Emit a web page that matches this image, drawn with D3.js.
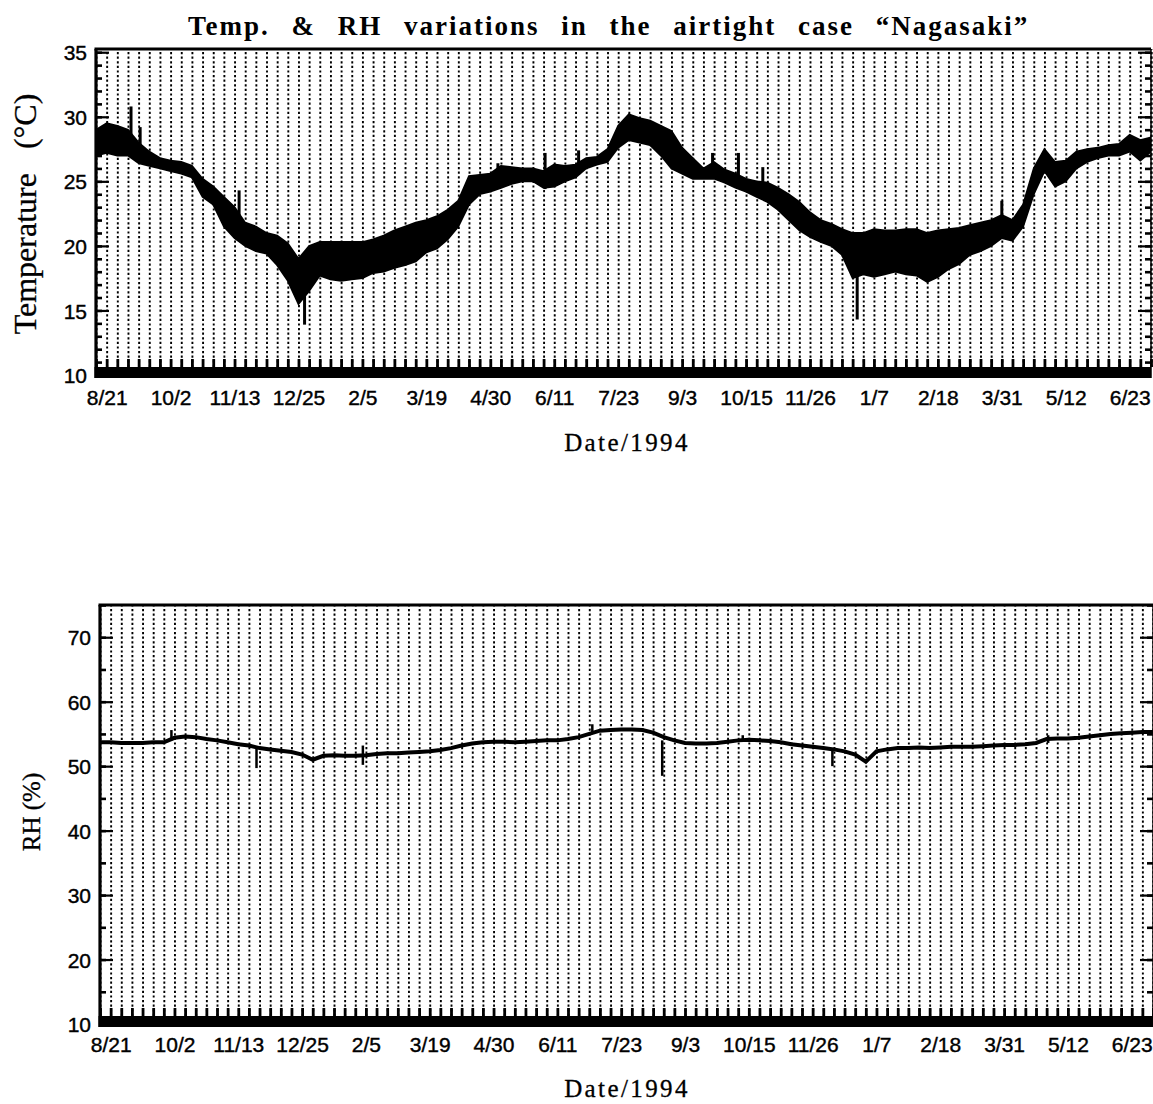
<!DOCTYPE html>
<html>
<head>
<meta charset="utf-8">
<script src="https://cdn.jsdelivr.net/npm/d3@7"></script>
<style>
body { margin: 0; background: #fff; }
.lab { font-family: "Liberation Sans", Arial, sans-serif; font-size: 21px; fill: #000; stroke: #000; stroke-width: 0.4px; }
.serif { font-family: "Liberation Serif", "Times New Roman", serif; fill: #000; }
</style>
</head>
<body>
<svg id="chart" width="1153" height="1104"></svg>
<script>
// ---- data ----
// one reading per week, the first week starts 8/14/1994
var weekStart = "1994-08-14";
var weekCount = 100;

// temperature band: lower and upper edge of the daily swing (°C)
var tempLow = [27.0,27.2,27.0,27.0,26.4,26.2,26.0,25.8,25.6,25.3,
  23.8,23.2,21.5,20.6,20.0,19.6,19.4,18.5,17.3,15.5,
  16.5,17.7,17.4,17.3,17.4,17.5,17.9,18.0,18.3,18.5,
  18.8,19.5,19.8,20.5,21.5,23.2,24.0,24.2,24.5,24.8,
  25.0,25.0,24.5,24.6,25.0,25.3,26.0,26.3,26.5,27.6,
  28.2,28.0,27.8,27.0,26.0,25.6,25.2,25.2,25.2,24.9,
  24.5,24.2,23.8,23.4,22.8,22.0,21.2,20.7,20.3,20.0,
  19.3,17.5,17.8,17.6,17.8,18.0,17.8,17.7,17.2,17.6,
  18.2,18.6,19.3,19.6,20.0,20.6,20.4,21.5,24.0,25.8,
  24.6,25.0,26.0,26.5,26.8,27.0,27.0,27.3,26.6,27.3];
var tempHigh = [29.0,29.5,29.3,29.0,28.0,27.3,26.8,26.6,26.5,26.2,
  25.2,24.6,23.8,23.0,21.8,21.5,21.0,20.8,20.2,19.0,
  20.0,20.3,20.3,20.3,20.3,20.3,20.5,20.8,21.2,21.5,
  21.8,22.0,22.3,22.8,23.5,25.4,25.5,25.6,26.2,26.1,
  26.0,26.0,25.8,26.3,26.2,26.3,26.8,26.9,27.5,29.3,
  30.2,29.9,29.7,29.3,28.9,27.6,26.8,26.0,26.5,25.9,
  25.6,25.2,25.0,24.9,24.5,24.0,23.4,22.6,22.0,21.7,
  21.3,21.0,21.0,21.3,21.2,21.2,21.3,21.3,21.0,21.2,
  21.3,21.4,21.6,21.8,22.0,22.4,22.0,23.2,26.0,27.5,
  26.5,26.6,27.3,27.5,27.6,27.8,27.9,28.6,28.2,28.4];

// short excursions of temperature: date, low, high
var tempSpikes = [
  ["1994-09-06", 27.0, 30.8], ["1994-09-12", 27.0, 29.2],
  ["1994-11-16", 21.0, 24.3], ["1994-12-29", 13.9, 18.0],
  ["1995-05-05", 24.8, 26.4], ["1995-06-05", 24.4, 27.2],
  ["1995-06-27", 25.5, 27.4], ["1995-09-23", 25.3, 27.2],
  ["1995-10-10", 24.8, 27.2], ["1995-10-26", 24.0, 26.1],
  ["1995-12-27", 14.3, 19.0], ["1996-03-31", 20.8, 23.5]];

// relative humidity (%)
var rhValues = [53.7,53.7,53.6,53.6,53.6,53.7,53.7,54.4,54.6,54.5,
  54.2,54.0,53.7,53.4,53.2,52.8,52.6,52.4,52.2,51.8,
  51.0,51.6,51.7,51.6,51.6,51.7,51.9,52.0,52.0,52.1,
  52.2,52.3,52.5,52.8,53.2,53.5,53.7,53.8,53.8,53.7,
  53.8,53.9,54.0,54.0,54.2,54.5,55.0,55.5,55.6,55.7,
  55.7,55.6,55.2,54.5,54.0,53.6,53.5,53.5,53.6,53.8,
  54.0,54.1,54.0,53.9,53.7,53.4,53.2,53.0,52.8,52.6,
  52.3,51.8,50.7,52.3,52.6,52.8,52.8,52.9,52.8,52.9,
  53.0,53.0,53.0,53.1,53.2,53.3,53.3,53.4,53.6,54.2,
  54.3,54.3,54.4,54.6,54.8,55.0,55.1,55.2,55.3,55.3];

// short excursions of RH: date, low, high
var rhSpikes = [
  ["1994-09-30", 54.0, 55.6], ["1994-11-25", 49.7, 53.0],
  ["1995-02-03", 50.2, 53.2], ["1995-07-04", 55.0, 56.5],
  ["1995-08-19", 48.5, 54.0], ["1995-10-11", 53.8, 54.8],
  ["1995-12-09", 50.0, 52.8], ["1996-04-29", 53.6, 54.8]];

// date labels, every 42 days from 8/21/1994
var labelStart = "1994-08-21";
var dateLabels = ["8/21","10/2","11/13","12/25","2/5","3/19","4/30","6/11","7/23",
  "9/3","10/15","11/26","1/7","2/18","3/31","5/12","6/23"];
var domainEnd = "1996-07-07";

var tempTicks = [10, 15, 20, 25, 30, 35];
var rhTicks = [10, 20, 30, 40, 50, 60, 70];

// ---- helpers ----
var parse = d3.timeParse("%Y-%m-%d");
var svg = d3.select("#chart");

var t0 = parse(weekStart);
var weekDates = d3.range(weekCount).map(k => d3.timeDay.offset(t0, 7 * k));
var labelDates = dateLabels.map((s, i) => d3.timeDay.offset(parse(labelStart), 42 * i));

function drawPanel(opt) {
  var x = d3.scaleTime().domain([t0, parse(domainEnd)]).range([opt.left, opt.right]);
  var y = d3.scaleLinear().domain(opt.domain).range([opt.bottom, opt.top]);
  var g = svg.append("g");
  var bandTop = opt.bottom - 8;

  // dotted weekly grid
  g.append("g")
    .attr("transform", `translate(0,${bandTop})`)
    .call(d3.axisTop(x).tickValues(weekDates.concat([parse(domainEnd)])).tickSize(bandTop - opt.top).tickFormat(""))
    .call(a => a.select(".domain").remove())
    .selectAll("line")
    .attr("stroke", "#000")
    .attr("stroke-width", 1.9)
    .attr("stroke-dasharray", "2.2,2.4");

  // data
  var clipId = "clip" + opt.id;
  g.append("clipPath").attr("id", clipId).append("rect")
    .attr("x", opt.left).attr("y", opt.top)
    .attr("width", opt.right - opt.left).attr("height", opt.bottom - opt.top);
  var dg = g.append("g").attr("clip-path", `url(#${clipId})`);
  opt.drawData(dg, x, y);

  // weekly ticks standing on the thick bottom axis
  g.append("g")
    .attr("transform", `translate(0,${bandTop})`)
    .call(d3.axisTop(x).tickValues(weekDates).tickSize(8).tickFormat(""))
    .call(a => a.select(".domain").remove())
    .selectAll("line").attr("stroke", "#000").attr("stroke-width", 2.8);

  g.append("rect")
    .attr("x", opt.left - 1.5).attr("y", bandTop)
    .attr("width", opt.right - opt.left + 1.5).attr("height", 11)
    .attr("fill", "#000");

  // frame
  g.append("line").attr("x1", opt.left - 1.5).attr("x2", opt.right)
    .attr("y1", opt.top).attr("y2", opt.top)
    .attr("stroke", "#000").attr("stroke-width", 3);
  g.append("line").attr("x1", opt.left).attr("x2", opt.left)
    .attr("y1", opt.top).attr("y2", opt.bottom + 3)
    .attr("stroke", "#000").attr("stroke-width", 3.2);
  g.append("line").attr("x1", opt.right).attr("x2", opt.right)
    .attr("y1", opt.top).attr("y2", opt.bottom + 3)
    .attr("stroke", "#000").attr("stroke-width", 1.5);

  // y ticks, inside on both sides
  [[opt.left, d3.axisRight], [opt.right, d3.axisLeft]].forEach(function (s) {
    var minor = d3.range(opt.domain[0], opt.domain[1] + 0.01, opt.minorStep);
    g.append("g").attr("transform", `translate(${s[0]},0)`)
      .call(s[1](y).tickValues(minor).tickSize(6).tickFormat(""))
      .call(a => a.select(".domain").remove())
      .selectAll("line").attr("stroke", "#000").attr("stroke-width", 2.6);
    g.append("g").attr("transform", `translate(${s[0]},0)`)
      .call(s[1](y).tickValues(opt.ticks).tickSize(13).tickFormat(""))
      .call(a => a.select(".domain").remove())
      .selectAll("line").attr("stroke", "#000").attr("stroke-width", 2.2);
  });

  // y labels
  g.append("g").attr("transform", `translate(${opt.left - 9},0)`)
    .call(d3.axisLeft(y).tickValues(opt.ticks).tickSize(0))
    .call(a => a.select(".domain").remove())
    .selectAll("text").attr("class", "lab").attr("dy", "0.36em").attr("x", 0);

  // x labels
  g.append("g").attr("transform", `translate(0,${opt.labelY})`)
    .call(d3.axisBottom(x).tickValues(labelDates).tickSize(0).tickFormat((d, i) => dateLabels[i]))
    .call(a => a.select(".domain").remove())
    .selectAll("text").attr("class", "lab").attr("dy", 0).attr("y", 0);

  g.append("text").attr("class", "serif")
    .attr("x", 627).attr("y", opt.titleY)
    .attr("text-anchor", "middle")
    .style("font-size", "25px").style("letter-spacing", "2.4px")
    .style("stroke", "#000").style("stroke-width", "0.3px")
    .text("Date/1994");

  g.append("text").attr("class", "serif")
    .attr("transform", `translate(${opt.ylabX},${opt.ylabY}) rotate(-90)`)
    .attr("text-anchor", "middle")
    .style("font-size", opt.ylabSize + "px")
    .style("word-spacing", opt.ylabWord + "px")
    .style("stroke", "#000").style("stroke-width", "0.3px")
    .text(opt.ylab);
}

// title
svg.append("text").attr("class", "serif")
  .attr("x", 188).attr("y", 35)
  .style("font-size", "27px").style("font-weight", "bold")
  .style("letter-spacing", "2px").style("word-spacing", "13px")
  .text("Temp. & RH variations in the airtight case \u201CNagasaki\u201D");

// temperature panel
drawPanel({
  id: "t", left: 96, right: 1151, top: 49, bottom: 375,
  domain: [10, 35.25], ticks: tempTicks, minorStep: 1,
  labelY: 405, titleY: 451,
  ylab: "Temperature (\u00B0C)", ylabX: 36, ylabY: 214, ylabSize: 32, ylabWord: 16,
  drawData: function (g, x, y) {
    var band = weekDates.map((d, k) => ({ date: d, lo: tempLow[k], hi: tempHigh[k] }));
    g.append("path").datum(band)
      .attr("d", d3.area().x(d => x(d.date)).y0(d => y(d.lo)).y1(d => y(d.hi)))
      .attr("fill", "#000").attr("stroke", "#000").attr("stroke-width", 1.8);
    g.selectAll(".spk").data(tempSpikes).enter().append("line")
      .attr("x1", d => x(parse(d[0]))).attr("x2", d => x(parse(d[0])))
      .attr("y1", d => y(d[1])).attr("y2", d => y(d[2]))
      .attr("stroke", "#000").attr("stroke-width", 3);
  }
});

// RH panel
drawPanel({
  id: "r", left: 100, right: 1153, top: 605, bottom: 1024,
  domain: [10, 75], ticks: rhTicks, minorStep: 5,
  labelY: 1052, titleY: 1097,
  ylab: "RH (%)", ylabX: 40, ylabY: 812, ylabSize: 25, ylabWord: 0,
  drawData: function (g, x, y) {
    g.append("path").datum(rhValues)
      .attr("d", d3.line().x((v, k) => x(weekDates[k])).y(v => y(v)))
      .attr("fill", "none").attr("stroke", "#000").attr("stroke-width", 4);
    g.selectAll(".spk").data(rhSpikes).enter().append("line")
      .attr("x1", d => x(parse(d[0]))).attr("x2", d => x(parse(d[0])))
      .attr("y1", d => y(d[1])).attr("y2", d => y(d[2]))
      .attr("stroke", "#000").attr("stroke-width", 2.5);
  }
});
</script>
</body>
</html>
